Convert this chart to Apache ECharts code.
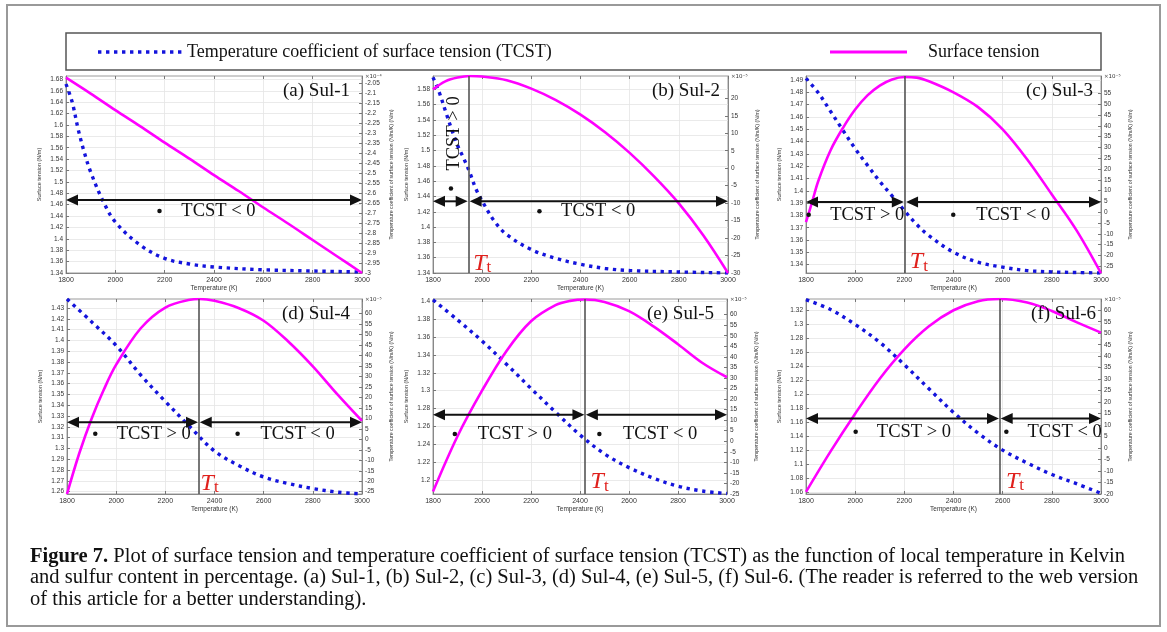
<!DOCTYPE html>
<html>
<head>
<meta charset="utf-8">
<script src="https://cdn.jsdelivr.net/npm/echarts@6/dist/echarts.min.js"></script>
<style>
  html, body { margin: 0; padding: 0; background: #fff; }
  #chart { width: 1167px; height: 632px; }
</style>
</head>
<body>
<div id="chart"></div>
<script>
// ---------- shared temperature axis (K) ----------
const tempRange = [1800, 3000];
const tempStep = 200;

// ---------- (a) Sul-1 ----------
const stTempA = [1800, 1900, 2000, 2100, 2200, 2300, 2400, 2500, 2600, 2700, 2800, 2900, 3000];
const stA = [1.683, 1.655, 1.626, 1.598, 1.569, 1.541, 1.512, 1.484, 1.455, 1.427, 1.398, 1.369, 1.340];
const tcTempA = [1800, 1825, 1850, 1875, 1900, 1950, 2000, 2100, 2200, 2300, 2400, 2600, 2800, 3000];
const tcA = [-2.055, -2.145, -2.285, -2.40, -2.495, -2.64, -2.745, -2.86, -2.927, -2.955, -2.97, -2.984, -2.99, -2.995];
const stTicksA = [1.34, 1.36, 1.38, 1.4, 1.42, 1.44, 1.46, 1.48, 1.5, 1.52, 1.54, 1.56, 1.58, 1.6, 1.62, 1.64, 1.66, 1.68];
const tcTicksA = [-3, -2.95, -2.9, -2.85, -2.8, -2.75, -2.7, -2.65, -2.6, -2.55, -2.5, -2.45, -2.4, -2.35, -2.3, -2.25, -2.2, -2.15, -2.1, -2.05];
const stRangeA = [1.34, 1.686];
const tcRangeA = [-3, -2.015];
const arrowsA = [[1800, 3000, 1.468]];
const bulletsA = [[2179, 1.449]];
const signTextA = [[2418, 1.448, 'TCST < 0', 0]];
const ttA = null;

// ---------- (b) Sul-2 ----------
const stTempB = [1800, 1850, 1900, 1950, 2000, 2100, 2200, 2300, 2400, 2500, 2600, 2700, 2800, 2900, 3000];
const stB = [1.580, 1.5905, 1.5955, 1.5975, 1.5968, 1.592, 1.581, 1.566, 1.547, 1.524, 1.497, 1.466, 1.431, 1.389, 1.340];
const tcTempB = [1800, 1825, 1850, 1875, 1900, 1925, 1950, 1975, 2000, 2050, 2100, 2200, 2300, 2400, 2500, 2600, 2800, 3000];
const tcB = [26.0, 21.8, 16.5, 11.3, 6.5, 2.8, -1.3, -6.0, -9.4, -15.2, -19.0, -23.3, -25.8, -27.5, -28.7, -29.3, -29.7, -30.0];
const stTicksB = [1.34, 1.36, 1.38, 1.4, 1.42, 1.44, 1.46, 1.48, 1.5, 1.52, 1.54, 1.56, 1.58];
const tcTicksB = [-30, -25, -20, -15, -10, -5, 0, 5, 10, 15, 20];
const stRangeB = [1.34, 1.5975];
const tcRangeB = [-30, 26.4];
const arrowsB = [[1800, 1941, 1.4337], [1949, 3000, 1.4337]];
const bulletsB = [[1873, 1.4503], [2233, 1.4206]];
const signTextB = [[1887, 1.5224, 'TCST > 0', 90], [2472, 1.4206, 'TCST < 0', 0]];
const ttB = [1945, 2000, 1.3527];

// ---------- (c) Sul-3 ----------
const stTempC = [1800, 1825, 1850, 1900, 1950, 2000, 2050, 2100, 2150, 2200, 2250, 2300, 2400, 2500, 2600, 2700, 2800, 2900, 3000];
const stC = [1.3745, 1.391, 1.408, 1.433, 1.451, 1.466, 1.4775, 1.4855, 1.4905, 1.4925, 1.492, 1.489, 1.480, 1.468, 1.450, 1.4255, 1.397, 1.368, 1.333];
const tcTempC = [1800, 1850, 1900, 1950, 2000, 2050, 2100, 2150, 2200, 2250, 2300, 2400, 2500, 2600, 2700, 2800, 2900, 3000];
const tcC = [62, 55.3, 46.7, 38, 29.5, 21.8, 14.3, 7.6, 0.8, -5.6, -10.8, -18.5, -23.1, -25.4, -27.0, -27.6, -27.9, -28.1];
const stTicksC = [1.34, 1.35, 1.36, 1.37, 1.38, 1.39, 1.4, 1.41, 1.42, 1.43, 1.44, 1.45, 1.46, 1.47, 1.48, 1.49];
const tcTicksC = [-25, -20, -15, -10, -5, 0, 5, 10, 15, 20, 25, 30, 35, 40, 45, 50, 55];
const stRangeC = [1.3332, 1.4933];
const tcRangeC = [-28.1, 63.1];
const arrowsC = [[1800, 2198, 1.391], [2207, 3000, 1.391]];
const bulletsC = [[1811, 1.3806], [2399, 1.3806]];
const signTextC = [[2049, 1.3806, 'TCST > 0', 0], [2643, 1.3806, 'TCST < 0', 0]];
const ttC = [2202, 2259, 1.342];

// ---------- (d) Sul-4 ----------
const stTempD = [1800, 1850, 1900, 1950, 2000, 2100, 2200, 2300, 2340, 2400, 2500, 2600, 2700, 2800, 2900, 3000];
const stD = [1.2578, 1.2955, 1.3275, 1.3545, 1.3775, 1.4112, 1.4304, 1.4376, 1.4383, 1.4366, 1.4298, 1.4182, 1.399, 1.376, 1.350, 1.3255];
const tcTempD = [1800, 1900, 2000, 2100, 2200, 2300, 2400, 2500, 2600, 2700, 2800, 2900, 3000];
const tcD = [67.0, 56.1, 44.8, 30.7, 18.1, 6.0, -5.6, -12.6, -18.0, -21.1, -23.5, -25.2, -26.1];
const stTicksD = [1.26, 1.27, 1.28, 1.29, 1.3, 1.31, 1.32, 1.33, 1.34, 1.35, 1.36, 1.37, 1.38, 1.39, 1.4, 1.41, 1.42, 1.43];
const tcTicksD = [-25, -20, -15, -10, -5, 0, 5, 10, 15, 20, 25, 30, 35, 40, 45, 50, 55, 60];
const stRangeD = [1.2578, 1.4383];
const tcRangeD = [-26.1, 67.0];
const arrowsD = [[1800, 2333, 1.3243], [2340, 3000, 1.3243]];
const bulletsD = [[1915, 1.3135], [2494, 1.3135]];
const signTextD = [[2153, 1.3135, 'TCST > 0', 0], [2738, 1.3135, 'TCST < 0', 0]];
const ttD = [2336, 2380, 1.2675];

// ---------- (e) Sul-5 ----------
const stTempE = [1800, 1900, 2000, 2100, 2200, 2300, 2360, 2420, 2500, 2600, 2700, 2800, 2900, 3000];
const stE = [1.187, 1.249, 1.300, 1.3445, 1.3777, 1.3957, 1.4005, 1.402, 1.3993, 1.389, 1.372, 1.352, 1.331, 1.315];
const tcTempE = [1800, 1900, 2000, 2100, 2200, 2300, 2400, 2500, 2600, 2700, 2800, 2900, 3000];
const tcE = [67.0, 57.5, 47.5, 36.5, 25.0, 13.8, 3.0, -6.0, -12.5, -17.5, -21.3, -23.6, -24.8];
const stTicksE = [1.2, 1.22, 1.24, 1.26, 1.28, 1.3, 1.32, 1.34, 1.36, 1.38, 1.4];
const tcTicksE = [-25, -20, -15, -10, -5, 0, 5, 10, 15, 20, 25, 30, 35, 40, 45, 50, 55, 60];
const stRangeE = [1.1843, 1.4026];
const tcRangeE = [-25, 67.4];
const arrowsE = [[1800, 2418, 1.2729], [2424, 3000, 1.2729]];
const bulletsE = [[1889, 1.2516], [2479, 1.2516]];
const signTextE = [[2134, 1.2516, 'TCST > 0', 0], [2727, 1.2516, 'TCST < 0', 0]];
const ttE = [2420, 2480, 1.198];

// ---------- (f) Sul-6 ----------
const stTempF = [1800, 1900, 2000, 2100, 2200, 2300, 2400, 2500, 2588, 2700, 2800, 2900, 3000];
const stF = [1.060, 1.118, 1.172, 1.222, 1.264, 1.297, 1.320, 1.333, 1.336, 1.331, 1.319, 1.303, 1.288];
const tcTempF = [1800, 1900, 2000, 2100, 2200, 2300, 2400, 2500, 2600, 2700, 2800, 2900, 3000];
const tcF = [64.6, 60.3, 53.8, 46.0, 36.3, 25.8, 15.5, 6.5, -0.9, -6.5, -11.5, -15.5, -19.7];
const stTicksF = [1.06, 1.08, 1.1, 1.12, 1.14, 1.16, 1.18, 1.2, 1.22, 1.24, 1.26, 1.28, 1.3, 1.32];
const tcTicksF = [-20, -15, -10, -5, 0, 5, 10, 15, 20, 25, 30, 35, 40, 45, 50, 55, 60];
const stRangeF = [1.057, 1.3361];
const tcRangeF = [-20, 64.9];
const arrowsF = [[1800, 2585, 1.1649], [2592, 3000, 1.1649]];
const bulletsF = [[2002, 1.146], [2615, 1.146]];
const signTextF = [[2239, 1.146, 'TCST > 0', 0], [2852, 1.146, 'TCST < 0', 0]];
const ttF = [2588, 2650, 1.075];

// ---------- labels ----------
const panelTitles = ['(a) Sul-1', '(b) Sul-2', '(c) Sul-3', '(d) Sul-4', '(e) Sul-5', '(f) Sul-6'];
const tcScale = ['×10⁻⁴', '×10⁻⁵', '×10⁻⁵', '×10⁻⁵', '×10⁻⁵', '×10⁻⁵'];
const legendNames = ['Temperature coefficient of surface tension (TCST)', 'Surface tension'];
const xName = 'Temperature (K)';
const stName = 'Surface tension (N/m)';
const tcName = 'Temperature coefficient of surface tension (N/m/K) (N/m)';
const captionLines = [
  'Plot of surface tension and temperature coefficient of surface tension (TCST) as the function of local temperature in Kelvin',
  'and sulfur content in percentage. (a) Sul-1, (b) Sul-2, (c) Sul-3, (d) Sul-4, (e) Sul-5, (f) Sul-6. (The reader is referred to the web version',
  'of this article for a better understanding).'
];
const captionHead = 'Figure 7.';

// ---------- layout (plot boxes: left, top, right, bottom in px) ----------
const boxes = [
  [66, 76, 362, 273], [433, 76, 728, 273], [806, 76, 1101, 273],
  [67, 299, 362, 494], [433, 299, 727, 494], [806, 299, 1101, 494]
];
const titleInset = [12, 8, 8, 12, 13, 5];

const panels = [
  [stTempA, stA, tcTempA, tcA, stTicksA, tcTicksA, stRangeA, tcRangeA, arrowsA, bulletsA, signTextA, ttA],
  [stTempB, stB, tcTempB, tcB, stTicksB, tcTicksB, stRangeB, tcRangeB, arrowsB, bulletsB, signTextB, ttB],
  [stTempC, stC, tcTempC, tcC, stTicksC, tcTicksC, stRangeC, tcRangeC, arrowsC, bulletsC, signTextC, ttC],
  [stTempD, stD, tcTempD, tcD, stTicksD, tcTicksD, stRangeD, tcRangeD, arrowsD, bulletsD, signTextD, ttD],
  [stTempE, stE, tcTempE, tcE, stTicksE, tcTicksE, stRangeE, tcRangeE, arrowsE, bulletsE, signTextE, ttE],
  [stTempF, stF, tcTempF, tcF, stTicksF, tcTicksF, stRangeF, tcRangeF, arrowsF, bulletsF, signTextF, ttF]
];

const MAGENTA = '#ff00ff';
const BLUE = '#1414dc';
const RED = '#e0201c';
const INK = '#111';
const SERIF = '"Liberation Serif", "Times New Roman", serif';
const SANS = '"Liberation Sans", Arial, sans-serif';
const zip = (xs, ys) => xs.map((x, i) => [x, ys[i]]);
const fmt = v => String(+(+v).toFixed(4));

const grid = [], xAxis = [], yAxis = [], series = [], graphic = [];

panels.forEach((p, i) => {
  const [stT, st, tcT, tc, stTicks, tcTicks, stRange, tcRange, arrows, bullets, signText, tt] = p;
  const [l, t, r, b] = boxes[i];
  grid.push({
    left: l, top: t, width: r - l, height: b - t,
    show: true, borderColor: '#9a9a9a', borderWidth: 1,
    outerBoundsMode: 'none'
  });
  // bottom temperature axis
  xAxis.push({
    type: 'value', gridIndex: i, position: 'bottom', min: tempRange[0], max: tempRange[1], interval: tempStep,
    name: xName, nameLocation: 'middle', nameGap: 12,
    nameTextStyle: { fontSize: 6.5, color: '#333', fontFamily: SANS },
    axisLine: { show: true, onZero: false, lineStyle: { color: '#888', width: 1 } },
    axisTick: { show: true, inside: true, length: 3, lineStyle: { color: '#777' } },
    axisLabel: { fontSize: 7, color: '#333', margin: 4, fontFamily: SANS, formatter: v => String(v) },
    splitLine: { show: true, lineStyle: { color: '#e4e4e4', width: 0.8 } }
  });
  // top edge ticks only
  xAxis.push({
    type: 'value', gridIndex: i, position: 'top', min: tempRange[0], max: tempRange[1], interval: tempStep,
    axisLine: { show: false, onZero: false },
    axisTick: { show: true, inside: true, length: 3, lineStyle: { color: '#777' } },
    axisLabel: { show: false }, splitLine: { show: false }
  });
  yAxis.push({
    type: 'value', gridIndex: i, position: 'left', min: stRange[0], max: stRange[1],
    name: stName, nameLocation: 'middle', nameGap: 24, nameRotate: 90,
    nameTextStyle: { fontSize: 5.5, color: '#333', fontFamily: SANS },
    axisLine: { show: true, onZero: false, lineStyle: { color: '#888', width: 1 } },
    axisTick: { show: true, inside: true, length: 3, customValues: stTicks, lineStyle: { color: '#777' } },
    axisLabel: { fontSize: 6.5, color: '#333', margin: 3, customValues: stTicks, formatter: fmt, fontFamily: SANS },
    splitLine: { show: true, lineStyle: { color: '#e4e4e4', width: 0.8 } }
  });
  yAxis.push({
    type: 'value', gridIndex: i, position: 'right', min: tcRange[0], max: tcRange[1],
    name: tcName, nameLocation: 'middle', nameGap: 27, nameRotate: 90,
    nameTextStyle: { fontSize: 5.2, color: '#333', fontFamily: SANS },
    axisLine: { show: true, onZero: false, lineStyle: { color: '#888', width: 1 } },
    axisTick: { show: true, inside: true, length: 3, customValues: tcTicks, lineStyle: { color: '#777' } },
    axisLabel: { fontSize: 6.5, color: '#333', margin: 3, customValues: tcTicks, formatter: fmt, fontFamily: SANS },
    splitLine: { show: false }
  });

  const xi = 2 * i, yl = 2 * i, yr = 2 * i + 1;

  // surface tension (left axis) with transition-temperature marker
  series.push({
    type: 'line', name: legendNames[1], xAxisIndex: xi, yAxisIndex: yl,
    data: zip(stT, st), smooth: 0.35, showSymbol: false, symbol: 'none',
    lineStyle: { color: MAGENTA, width: 2.6 }, z: 4,
    markLine: tt ? {
      silent: true, symbol: 'none', label: { show: false },
      lineStyle: { color: '#555', width: 1.6, type: 'solid' },
      data: [{ xAxis: tt[0] }]
    } : undefined
  });
  // TCST (right axis), dotted
  series.push({
    type: 'line', name: legendNames[0], xAxisIndex: xi, yAxisIndex: yr,
    data: zip(tcT, tc), smooth: 0.35, showSymbol: false, symbol: 'none',
    lineStyle: { color: BLUE, width: 3.4, type: [3.4, 4.6], cap: 'butt' }, z: 3
  });
  // double-headed range arrows
  series.push({
    type: 'custom', xAxisIndex: xi, yAxisIndex: yl, z: 6, silent: true,
    data: arrows, encode: { x: [0, 1], y: 2 },
    renderItem: (params, api) => {
      const a = api.coord([api.value(0), api.value(2)]);
      const c = api.coord([api.value(1), api.value(2)]);
      const hl = 12, hw = 5.5;
      return {
        type: 'group', children: [
          { type: 'line', shape: { x1: a[0] + hl - 1, y1: a[1], x2: c[0] - hl + 1, y2: c[1] }, style: { stroke: INK, lineWidth: 2 } },
          { type: 'polygon', shape: { points: [[a[0], a[1]], [a[0] + hl, a[1] - hw], [a[0] + hl, a[1] + hw]] }, style: { fill: INK } },
          { type: 'polygon', shape: { points: [[c[0], c[1]], [c[0] - hl, c[1] - hw], [c[0] - hl, c[1] + hw]] }, style: { fill: INK } }
        ]
      };
    }
  });
  // bullets
  series.push({
    type: 'scatter', xAxisIndex: xi, yAxisIndex: yl, silent: true, z: 6,
    symbol: 'circle', symbolSize: 4.5, itemStyle: { color: INK, opacity: 1 },
    data: bullets
  });
  // sign annotations
  series.push({
    type: 'scatter', xAxisIndex: xi, yAxisIndex: yl, silent: true, z: 7,
    symbolSize: 0, itemStyle: { opacity: 1 },
    data: signText.map(s => ({
      value: [s[0], s[1]],
      label: {
        show: true, position: 'inside', formatter: s[2], rotate: s[3], opacity: 1,
        fontFamily: SERIF, fontSize: 18.5, color: INK, textBorderWidth: 0
      }
    }))
  });
  // transition temperature label
  if (tt) {
    series.push({
      type: 'scatter', xAxisIndex: xi, yAxisIndex: yl, silent: true, z: 7,
      symbolSize: 0, itemStyle: { opacity: 1 },
      data: [{
        value: [tt[1], tt[2]],
        label: {
          show: true, position: 'inside', formatter: '{i|T}{s|t}', textBorderWidth: 0, opacity: 1,
          rich: {
            i: { fontFamily: SERIF, fontStyle: 'italic', fontSize: 24, color: RED, textBorderWidth: 0 },
            s: { fontFamily: SERIF, fontSize: 17, color: RED, padding: [9, 0, 0, 0], textBorderWidth: 0 }
          }
        }
      }]
    });
  }

  // panel title and axis multiplier
  graphic.push({
    type: 'text', x: r - titleInset[i], y: t + 15, z: 10,
    style: { text: panelTitles[i], font: '19px ' + SERIF, fill: INK, align: 'right', verticalAlign: 'middle' }
  });
  graphic.push({
    type: 'text', x: r + 3, y: t + 1,
    style: { text: tcScale[i], font: '5.5px "DejaVu Sans", sans-serif', fill: '#333', align: 'left', verticalAlign: 'middle' }
  });
});

// outer frame
graphic.push({
  type: 'rect', z: -1, shape: { x: 7, y: 5, width: 1153, height: 621 },
  style: { fill: 'none', stroke: '#999', lineWidth: 2 }
});
// legend box
graphic.push({
  type: 'rect', shape: { x: 66, y: 33, width: 1035, height: 37 },
  style: { fill: '#fff', stroke: '#555', lineWidth: 1.5 }, z: 1
});
graphic.push({
  type: 'line', shape: { x1: 98, y1: 52, x2: 183, y2: 52 }, z: 2,
  style: { stroke: BLUE, lineWidth: 3.4, lineDash: [3.4, 4.6] }
});
graphic.push({
  type: 'text', x: 187, y: 52, z: 2,
  style: { text: legendNames[0], font: '18px ' + SERIF, fill: INK, verticalAlign: 'middle' }
});
graphic.push({
  type: 'line', shape: { x1: 830, y1: 52, x2: 907, y2: 52 }, z: 2,
  style: { stroke: MAGENTA, lineWidth: 3 }
});
graphic.push({
  type: 'text', x: 928, y: 52, z: 2,
  style: { text: legendNames[1], font: '18px ' + SERIF, fill: INK, verticalAlign: 'middle' }
});
// caption
const capY = [557, 578, 600];
captionLines.forEach((line, k) => {
  graphic.push({
    type: 'text', x: 30, y: capY[k], scaleX: 1.025, originX: 0,
    style: {
      text: k === 0 ? '{b|' + captionHead + '} ' + line : line,
      font: '20px ' + SERIF, fill: INK, verticalAlign: 'middle',
      rich: { b: { fontFamily: SERIF, fontSize: 20, fontWeight: 'bold', fill: INK } }
    }
  });
});

const chart = echarts.init(document.getElementById('chart'), null, { renderer: 'canvas' });
chart.setOption({
  backgroundColor: '#fff',
  animation: false,
  grid, xAxis, yAxis, series, graphic
});
</script>
</body>
</html>
